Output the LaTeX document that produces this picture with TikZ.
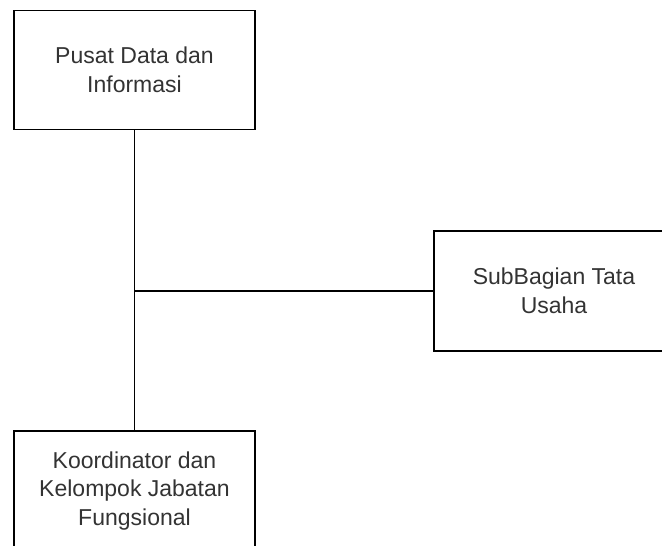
\documentclass[tikz,border=0pt]{standalone}
\usepackage{fontspec}
\setmainfont{Liberation Sans}
\definecolor{txt}{HTML}{333333}
\begin{document}
\begin{tikzpicture}[x=1pt,y=1pt,
  box/.style={draw=black,line width=1.5pt,minimum width=241pt,minimum height=119pt,
    inner sep=0pt,align=center,text=txt,font=\fontsize{23pt}{28.5pt}\selectfont},
  conn/.style={draw=black,line width=1.5pt}]
\useasboundingbox (0,0) rectangle (662,546);
\clip (0,0) rectangle (662,546);
\node[box] (top) at (134.5,476) {Pusat Data dan\\Informasi};
\node[box,minimum width=240pt,minimum height=120pt] (sub) at (554,255) {SubBagian Tata\\Usaha};
\node[box,minimum height=120pt] (kor) at (134.5,55) {Koordinator dan\\Kelompok Jabatan\\Fungsional};
\coordinate (j) at (top.south |- sub.west);
\draw[conn] (top.south) -- (kor.north);
\draw[conn] (j) -- (sub.west);
\end{tikzpicture}
\end{document}
